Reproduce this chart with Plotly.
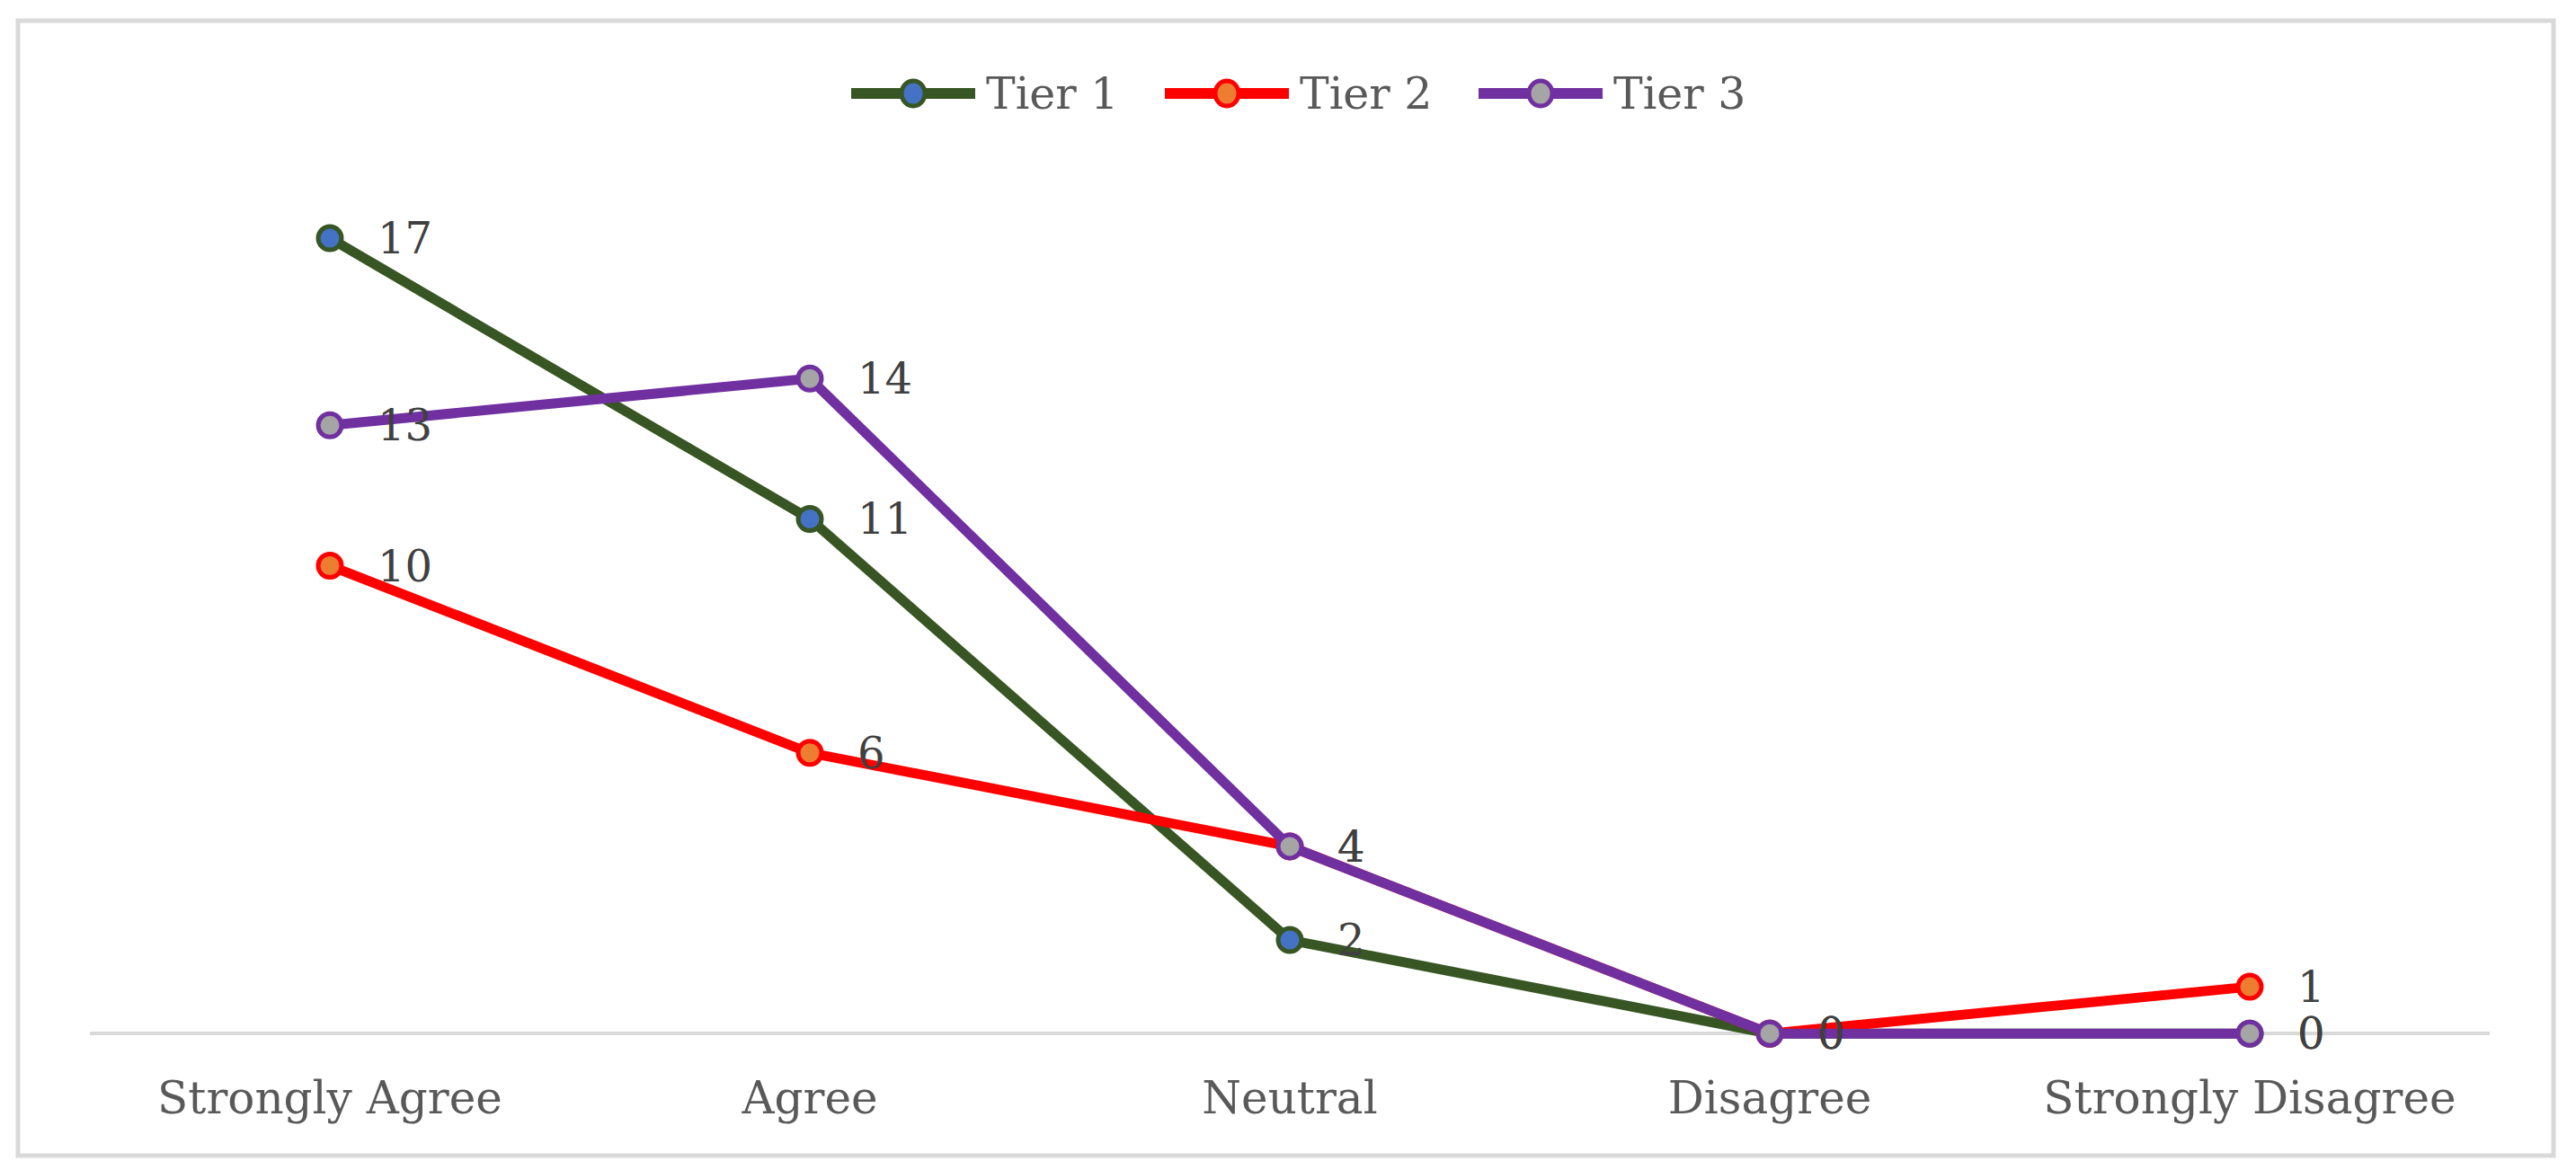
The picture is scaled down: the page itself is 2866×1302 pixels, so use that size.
import plotly.graph_objects as go

categories = ["Strongly Agree", "Agree", "Neutral", "Disagree", "Strongly Disagree"]
series_names = ["Tier 1", "Tier 2", "Tier 3"]
tier1 = [17, 11, 2, 0, 0]
tier2 = [10, 6, 4, 0, 1]
tier3 = [13, 14, 4, 0, 0]
series_values = [tier1, tier2, tier3]

line_colors = ["#375623", "#FF0000", "#7030A0"]
marker_fills = ["#4472C4", "#ED7D31", "#A5A5A5"]

OFF = 8  # default page body margin
W, H = 2866 - 2 * OFF, 1302 - 2 * OFF
Y_MIN, Y_MAX = -0.4, 18
UNIT = (1150 - 265) / 17.0  # px per unit in the original
ML, MR = 100 - OFF, 88
MT = int(round(1150 - Y_MAX * UNIT)) - OFF
MB = H - (int(round(1150 - Y_MIN * UNIT)) - OFF)
PW = W - ML - MR
PH = H - MT - MB
FONT = "DejaVu Serif"


def px2x(px):
    return (px - OFF - ML) / PW


def py2y(py):
    return (H - MB - (py - OFF)) / PH


fig = go.Figure()
for name, vals, lc, mf in zip(series_names, series_values, line_colors, marker_fills):
    fig.add_trace(go.Scatter(
        x=categories, y=vals, name=name, mode="lines+markers",
        line=dict(color=lc, width=11),
        marker=dict(size=26, color=mf, line=dict(color=lc, width=5)),
        cliponaxis=False, showlegend=False,
    ))

annotations = []
for vals in series_values:
    for c, v in zip(categories, vals):
        annotations.append(dict(
            x=c, y=v, xref="x", yref="y", text=str(v), showarrow=False,
            xanchor="left", yanchor="middle", xshift=51,
            font=dict(family=FONT, size=48, color="#404040"),
        ))

# custom legend (long line symbols like the original)
shapes = []
legend_line_starts = [947, 1296, 1645]
legend_y = 104
for name, lc, mf, x0 in zip(series_names, line_colors, marker_fills, legend_line_starts):
    shapes.append(dict(type="line", xref="paper", yref="paper",
                       x0=px2x(x0), x1=px2x(x0 + 138), y0=py2y(legend_y), y1=py2y(legend_y),
                       line=dict(color=lc, width=12)))
    cx = px2x(x0 + 69)
    cy = py2y(legend_y)
    shapes.append(dict(type="circle", xref="paper", yref="paper",
                       xsizemode="pixel", ysizemode="pixel", xanchor=cx, yanchor=cy,
                       x0=-13, x1=13, y0=-14, y1=14,
                       fillcolor=mf, line=dict(color=lc, width=5)))
    annotations.append(dict(
        x=px2x(x0 + 148), y=py2y(legend_y), xref="paper", yref="paper",
        text=name, showarrow=False, xanchor="left", yanchor="middle",
        font=dict(family=FONT, size=49, color="#595959"),
    ))

# outer frame
shapes.append(dict(type="rect", xref="paper", yref="paper",
                   x0=px2x(20), x1=px2x(2841), y0=py2y(1286), y1=py2y(23),
                   line=dict(color="#D9D9D9", width=5), layer="below"))

fig.update_layout(
    width=W, height=H,
    margin=dict(l=ML, r=MR, t=MT, b=MB),
    paper_bgcolor="white", plot_bgcolor="white",
    showlegend=False,
    annotations=annotations,
    shapes=shapes,
    xaxis=dict(
        type="category", range=[-0.5, 4.5],
        showline=False, showgrid=False, zeroline=False,
        ticks="", ticklabelstandoff=17,
        tickfont=dict(family=FONT, size=50, color="#595959"),
    ),
    yaxis=dict(
        range=[Y_MIN, Y_MAX], showgrid=False,
        zeroline=True, zerolinecolor="#D9D9D9", zerolinewidth=4,
        showticklabels=False, ticks="", showline=False,
    ),
)

fig.write_html("out.html")
